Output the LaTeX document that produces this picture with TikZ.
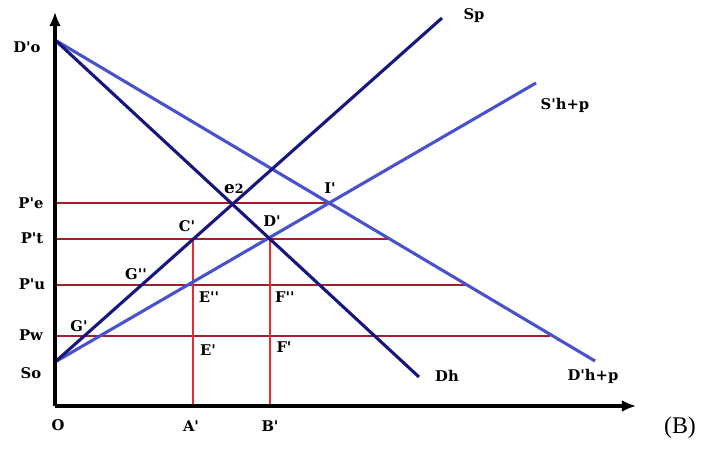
\documentclass[tikz,border=0pt]{standalone}
\usepackage{fontspec}
\setmainfont{Liberation Serif}
\newfontfamily\lblfont{DejaVu Serif}
\usetikzlibrary{arrows.meta}

\definecolor{navyline}{RGB}{22,22,125}
\definecolor{blueline}{RGB}{72,82,205}
\definecolor{darkred}{RGB}{160,32,48}
\definecolor{brightred}{RGB}{225,45,55}

\begin{document}
\begin{tikzpicture}[
	x=0.025cm,y=-0.025cm,
	axis/.style={line width=3pt,black,-{Latex[length=10pt,width=8.5pt]}},
	supply/.style={line width=2.2pt,navyline},
	demand/.style={line width=2.2pt,blueline},
	pricel/.style={line width=1.3pt,darkred},
	qtyl/.style={line width=1.3pt,brightred},
	label/.style={font=\lblfont\bfseries\fontsize{10.5}{12}\selectfont,inner sep=1pt}
]
\useasboundingbox (0,0) rectangle (704,448);

% Puntos principales
\coordinate (O) at (55,406);
\coordinate (ytop) at (55,12);
\coordinate (xend) at (636,406);
\coordinate (Do) at (55,40);
\coordinate (So) at (55,362);
\coordinate (Sp) at (442,18);
\coordinate (Shp) at (536,83);
\coordinate (Dh) at (419,377);
\coordinate (Dhp) at (595,361);

% Niveles de precio
\coordinate (Pe) at (55,203);
\coordinate (Pt) at (55,239);
\coordinate (Pu) at (55,285);
\coordinate (Pw) at (55,336);
\coordinate (Ie) at (330,203);
\coordinate (Ite) at (388,239);
\coordinate (Iue) at (465,285);
\coordinate (Iwe) at (550,336);

% Cantidades
\coordinate (Cp) at (193,239);
\coordinate (Dp) at (270,239);
\coordinate (Ap) at (193,406);
\coordinate (Bp) at (270,406);

% Lineas rojas
\draw[pricel] (Pe) -- (Ie);
\draw[pricel] (Pt) -- (Ite);
\draw[pricel] (Pu) -- (Iue);
\draw[pricel] (Pw) -- (Iwe);
\draw[qtyl] (Cp) -- (Ap);
\draw[qtyl] (Dp) -- (Bp);

% Curvas de oferta y demanda
\draw[demand] (Do) -- (Dhp);
\draw[demand] (So) -- (Shp);
\draw[supply] (Do) -- (Dh);
\draw[supply] (So) -- (Sp);

% Ejes
\draw[axis] (O) -- (ytop);
\draw[axis] (O) -- (xend);

% Etiquetas del eje vertical
\node[label] (lDo) at (27,47) {D'o};
\node[label] (lPe) at (31,203) {P'e};
\node[label] (lPt) at (32,238) {P't};
\node[label] (lPu) at (32,284) {P'u};
\node[label] (lPw) at (31,335) {Pw};
\node[label] (lSo) at (31,373) {So};

% Etiquetas del eje horizontal
\node[label] (lO) at (58,425) {O};
\node[label] (lAp) at (191,426) {A'};
\node[label] (lBp) at (270,426) {B'};

% Etiquetas de puntos
\node[label] (le2) at (234,189) {{\large e}{\small 2}};
\node[label] (lI) at (330,188) {I'};
\node[label] (lC) at (187,226) {C'};
\node[label] (lD) at (272,221) {D'};
\node[label] (lG2) at (136,274) {G''};
\node[label] (lE2) at (209,297) {E''};
\node[label] (lF2) at (285,297) {F''};
\node[label] (lG1) at (79,326) {G'};
\node[label] (lE1) at (208,350) {E'};
\node[label] (lF1) at (284,347) {F'};

% Etiquetas de curvas
\node[label] (lSp) at (474,16) {Sp};
\node[label] (lShp) at (565,105) {S'h+p};
\node[label] (lDh) at (447,376) {Dh};
\node[label] (lDhp) at (593,376) {D'h+p};

\node[font=\fontsize{17}{20}\selectfont] (lB) at (680,428) {(B)};

\end{tikzpicture}
\end{document}
